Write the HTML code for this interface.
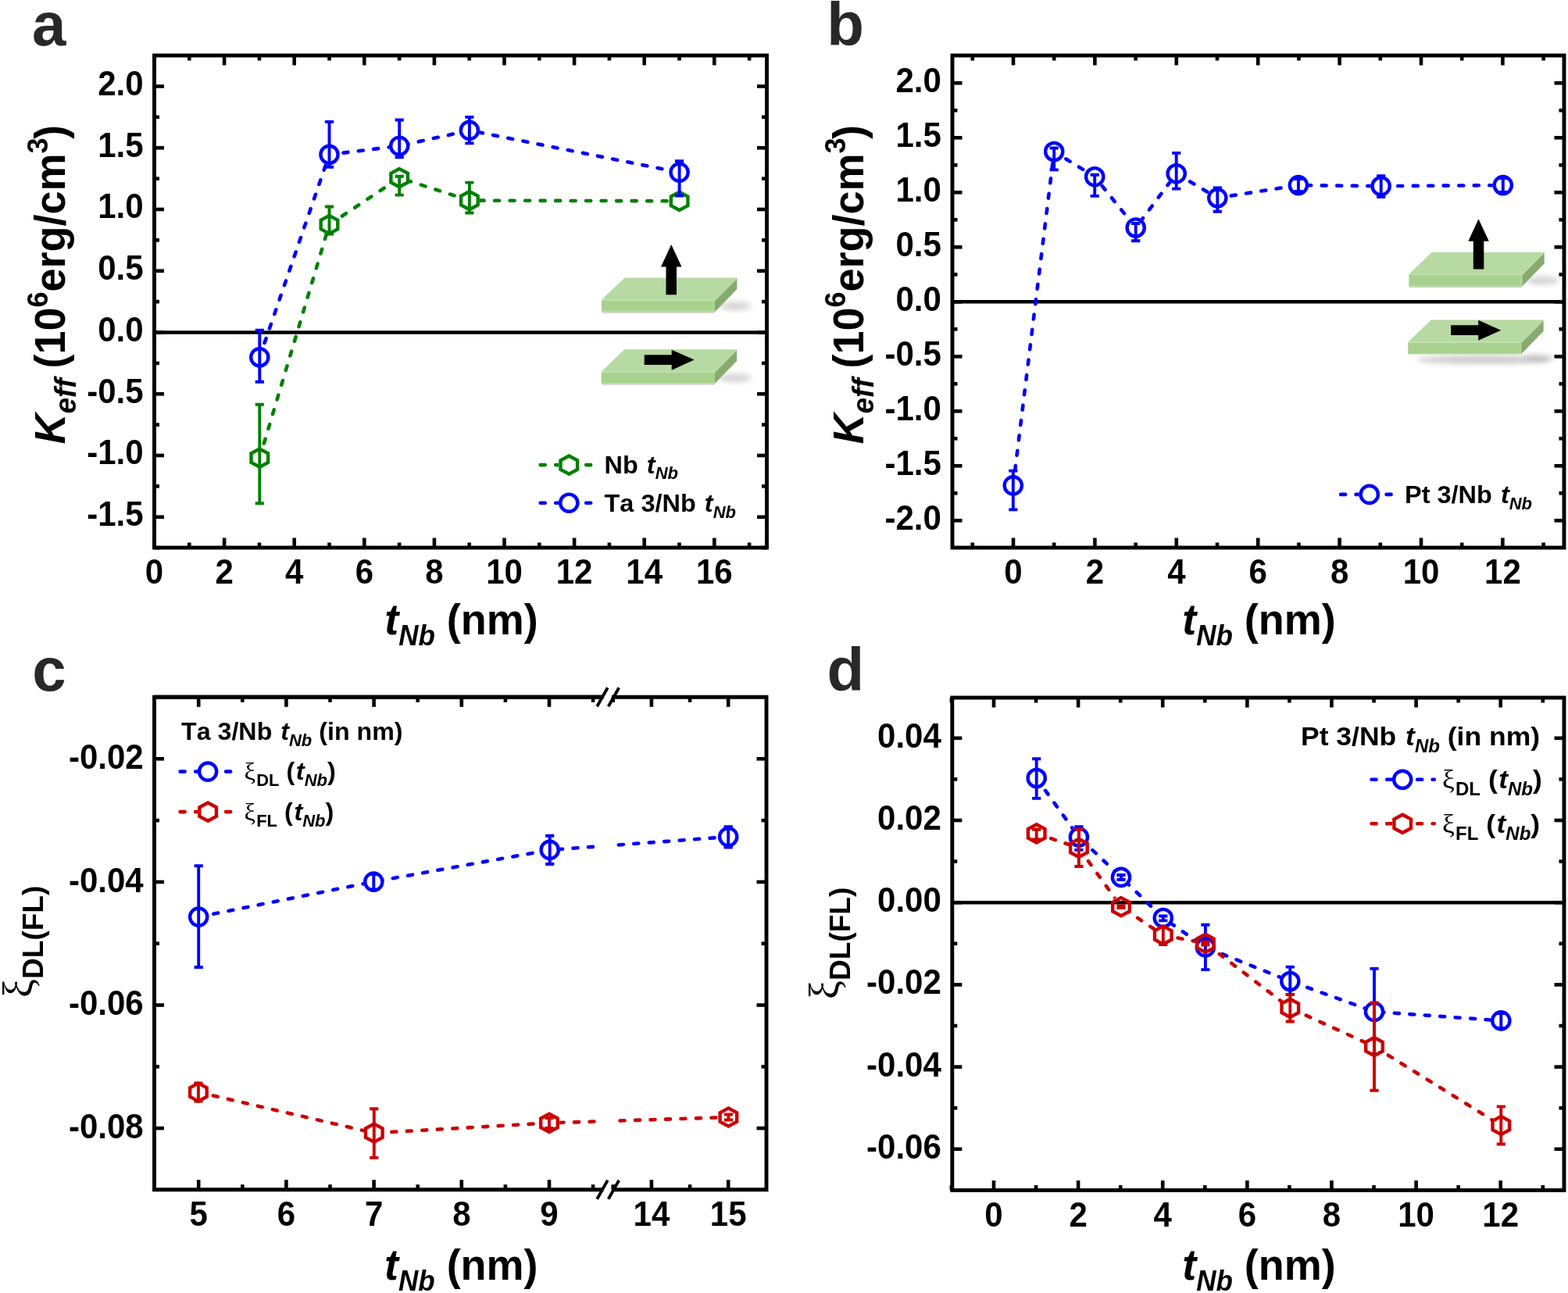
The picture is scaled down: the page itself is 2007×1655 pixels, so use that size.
<!DOCTYPE html>
<html><head><meta charset="utf-8"><title>Figure</title><style>html,body{margin:0;padding:0;background:#fff;}svg{display:block;}text{font-kerning:none;}</style></head><body>
<svg width="2007" height="1655" viewBox="0 0 2007 1655" style="font-kerning:none"><defs><filter id="shblur" x="-30%" y="-80%" width="160%" height="260%"><feGaussianBlur stdDeviation="3.5"/></filter><mask id="m1" maskUnits="userSpaceOnUse" x="0" y="0" width="2007" height="1655"><rect x="0" y="0" width="2007" height="1655" fill="#fff"/><circle cx="332.3" cy="586.2" r="13.2" fill="#000"/><circle cx="421.5" cy="287.5" r="13.2" fill="#000"/><circle cx="511.2" cy="227.7" r="13.2" fill="#000"/><circle cx="600.9" cy="256.6" r="13.2" fill="#000"/><circle cx="869.6" cy="257.3" r="13.2" fill="#000"/></mask><mask id="m2" maskUnits="userSpaceOnUse" x="0" y="0" width="2007" height="1655"><rect x="0" y="0" width="2007" height="1655" fill="#fff"/><circle cx="332.3" cy="457.3" r="13.2" fill="#000"/><circle cx="421.5" cy="197.8" r="13.2" fill="#000"/><circle cx="511.2" cy="186.8" r="13.2" fill="#000"/><circle cx="600.9" cy="166.9" r="13.2" fill="#000"/><circle cx="869.6" cy="220.6" r="13.2" fill="#000"/></mask><mask id="m3" maskUnits="userSpaceOnUse" x="0" y="0" width="2007" height="1655"><rect x="0" y="0" width="2007" height="1655" fill="#fff"/><circle cx="728.3" cy="595.1" r="13.2" fill="#000"/></mask><mask id="m4" maskUnits="userSpaceOnUse" x="0" y="0" width="2007" height="1655"><rect x="0" y="0" width="2007" height="1655" fill="#fff"/><circle cx="728.3" cy="643.7" r="13.2" fill="#000"/></mask><mask id="m5" maskUnits="userSpaceOnUse" x="0" y="0" width="2007" height="1655"><rect x="0" y="0" width="2007" height="1655" fill="#fff"/><circle cx="1296.8" cy="621.4" r="13.2" fill="#000"/><circle cx="1349.2" cy="194" r="13.2" fill="#000"/><circle cx="1401.2" cy="226.2" r="13.2" fill="#000"/><circle cx="1453.7" cy="291.5" r="13.2" fill="#000"/><circle cx="1505.7" cy="222.2" r="13.2" fill="#000"/><circle cx="1558.3" cy="253.3" r="13.2" fill="#000"/><circle cx="1661.9" cy="237.1" r="13.2" fill="#000"/><circle cx="1767.7" cy="238.2" r="13.2" fill="#000"/><circle cx="1923.8" cy="237.1" r="13.2" fill="#000"/></mask><mask id="m6" maskUnits="userSpaceOnUse" x="0" y="0" width="2007" height="1655"><rect x="0" y="0" width="2007" height="1655" fill="#fff"/><circle cx="1752.8" cy="632.9" r="13.2" fill="#000"/></mask><mask id="m7" maskUnits="userSpaceOnUse" x="0" y="0" width="2007" height="1655"><rect x="0" y="0" width="2007" height="1655" fill="#fff"/><circle cx="254.2" cy="1173.6" r="13.2" fill="#000"/><circle cx="478.3" cy="1128.6" r="13.2" fill="#000"/><circle cx="703.7" cy="1087.9" r="13.2" fill="#000"/><circle cx="932.2" cy="1071.1" r="13.2" fill="#000"/><rect x="770" y="892.3" width="18.5" height="630.4" fill="#000"/></mask><mask id="m8" maskUnits="userSpaceOnUse" x="0" y="0" width="2007" height="1655"><rect x="0" y="0" width="2007" height="1655" fill="#fff"/><circle cx="253.9" cy="1398" r="13.2" fill="#000"/><circle cx="478.8" cy="1450.2" r="13.2" fill="#000"/><circle cx="703" cy="1437.4" r="13.2" fill="#000"/><circle cx="932.4" cy="1430" r="13.2" fill="#000"/><rect x="770" y="892.3" width="18.5" height="630.4" fill="#000"/></mask><mask id="m9" maskUnits="userSpaceOnUse" x="0" y="0" width="2007" height="1655"><rect x="0" y="0" width="2007" height="1655" fill="#fff"/><circle cx="266.1" cy="987.6" r="13.2" fill="#000"/></mask><mask id="m10" maskUnits="userSpaceOnUse" x="0" y="0" width="2007" height="1655"><rect x="0" y="0" width="2007" height="1655" fill="#fff"/><circle cx="266.1" cy="1039.1" r="13.2" fill="#000"/></mask><mask id="m11" maskUnits="userSpaceOnUse" x="0" y="0" width="2007" height="1655"><rect x="0" y="0" width="2007" height="1655" fill="#fff"/><circle cx="1326.7" cy="996" r="13.2" fill="#000"/><circle cx="1380.9" cy="1071.5" r="13.2" fill="#000"/><circle cx="1435" cy="1122.9" r="13.2" fill="#000"/><circle cx="1488.8" cy="1175" r="13.2" fill="#000"/><circle cx="1542.9" cy="1212.4" r="13.2" fill="#000"/><circle cx="1651.3" cy="1256" r="13.2" fill="#000"/><circle cx="1759" cy="1294.9" r="13.2" fill="#000"/><circle cx="1921.3" cy="1306.4" r="13.2" fill="#000"/></mask><mask id="m12" maskUnits="userSpaceOnUse" x="0" y="0" width="2007" height="1655"><rect x="0" y="0" width="2007" height="1655" fill="#fff"/><circle cx="1326.7" cy="1066.8" r="13.2" fill="#000"/><circle cx="1380.9" cy="1085.4" r="13.2" fill="#000"/><circle cx="1435" cy="1160.7" r="13.2" fill="#000"/><circle cx="1488.8" cy="1197" r="13.2" fill="#000"/><circle cx="1542.9" cy="1207.4" r="13.2" fill="#000"/><circle cx="1651.3" cy="1290.3" r="13.2" fill="#000"/><circle cx="1759" cy="1339.6" r="13.2" fill="#000"/><circle cx="1921.3" cy="1440.5" r="13.2" fill="#000"/></mask><mask id="m13" maskUnits="userSpaceOnUse" x="0" y="0" width="2007" height="1655"><rect x="0" y="0" width="2007" height="1655" fill="#fff"/><circle cx="1795.2" cy="997.8" r="13.2" fill="#000"/></mask><mask id="m14" maskUnits="userSpaceOnUse" x="0" y="0" width="2007" height="1655"><rect x="0" y="0" width="2007" height="1655" fill="#fff"/><circle cx="1795.2" cy="1054.3" r="13.2" fill="#000"/></mask></defs><rect width="2007" height="1655" fill="#fff"/><line x1="197.5" y1="425.5" x2="981.5" y2="425.5" stroke="#000" stroke-width="4.5"/>
<line x1="197.5" y1="701" x2="197.5" y2="688.5" stroke="#000" stroke-width="4.6"/>
<line x1="197.5" y1="71" x2="197.5" y2="83.5" stroke="#000" stroke-width="4.6"/>
<line x1="287.1" y1="701" x2="287.1" y2="688.5" stroke="#000" stroke-width="4.6"/>
<line x1="287.1" y1="71" x2="287.1" y2="83.5" stroke="#000" stroke-width="4.6"/>
<line x1="376.7" y1="701" x2="376.7" y2="688.5" stroke="#000" stroke-width="4.6"/>
<line x1="376.7" y1="71" x2="376.7" y2="83.5" stroke="#000" stroke-width="4.6"/>
<line x1="466.3" y1="701" x2="466.3" y2="688.5" stroke="#000" stroke-width="4.6"/>
<line x1="466.3" y1="71" x2="466.3" y2="83.5" stroke="#000" stroke-width="4.6"/>
<line x1="555.9" y1="701" x2="555.9" y2="688.5" stroke="#000" stroke-width="4.6"/>
<line x1="555.9" y1="71" x2="555.9" y2="83.5" stroke="#000" stroke-width="4.6"/>
<line x1="645.5" y1="701" x2="645.5" y2="688.5" stroke="#000" stroke-width="4.6"/>
<line x1="645.5" y1="71" x2="645.5" y2="83.5" stroke="#000" stroke-width="4.6"/>
<line x1="735.1" y1="701" x2="735.1" y2="688.5" stroke="#000" stroke-width="4.6"/>
<line x1="735.1" y1="71" x2="735.1" y2="83.5" stroke="#000" stroke-width="4.6"/>
<line x1="824.7" y1="701" x2="824.7" y2="688.5" stroke="#000" stroke-width="4.6"/>
<line x1="824.7" y1="71" x2="824.7" y2="83.5" stroke="#000" stroke-width="4.6"/>
<line x1="914.3" y1="701" x2="914.3" y2="688.5" stroke="#000" stroke-width="4.6"/>
<line x1="914.3" y1="71" x2="914.3" y2="83.5" stroke="#000" stroke-width="4.6"/>
<line x1="242.3" y1="701" x2="242.3" y2="694.5" stroke="#000" stroke-width="4.6"/>
<line x1="242.3" y1="71" x2="242.3" y2="77.5" stroke="#000" stroke-width="4.6"/>
<line x1="331.9" y1="701" x2="331.9" y2="694.5" stroke="#000" stroke-width="4.6"/>
<line x1="331.9" y1="71" x2="331.9" y2="77.5" stroke="#000" stroke-width="4.6"/>
<line x1="421.5" y1="701" x2="421.5" y2="694.5" stroke="#000" stroke-width="4.6"/>
<line x1="421.5" y1="71" x2="421.5" y2="77.5" stroke="#000" stroke-width="4.6"/>
<line x1="511.1" y1="701" x2="511.1" y2="694.5" stroke="#000" stroke-width="4.6"/>
<line x1="511.1" y1="71" x2="511.1" y2="77.5" stroke="#000" stroke-width="4.6"/>
<line x1="600.7" y1="701" x2="600.7" y2="694.5" stroke="#000" stroke-width="4.6"/>
<line x1="600.7" y1="71" x2="600.7" y2="77.5" stroke="#000" stroke-width="4.6"/>
<line x1="690.3" y1="701" x2="690.3" y2="694.5" stroke="#000" stroke-width="4.6"/>
<line x1="690.3" y1="71" x2="690.3" y2="77.5" stroke="#000" stroke-width="4.6"/>
<line x1="779.9" y1="701" x2="779.9" y2="694.5" stroke="#000" stroke-width="4.6"/>
<line x1="779.9" y1="71" x2="779.9" y2="77.5" stroke="#000" stroke-width="4.6"/>
<line x1="869.5" y1="701" x2="869.5" y2="694.5" stroke="#000" stroke-width="4.6"/>
<line x1="869.5" y1="71" x2="869.5" y2="77.5" stroke="#000" stroke-width="4.6"/>
<line x1="959.1" y1="701" x2="959.1" y2="694.5" stroke="#000" stroke-width="4.6"/>
<line x1="959.1" y1="71" x2="959.1" y2="77.5" stroke="#000" stroke-width="4.6"/>
<line x1="197.5" y1="661.75" x2="210" y2="661.75" stroke="#000" stroke-width="4.6"/>
<line x1="981.5" y1="661.75" x2="969" y2="661.75" stroke="#000" stroke-width="4.6"/>
<line x1="197.5" y1="583" x2="210" y2="583" stroke="#000" stroke-width="4.6"/>
<line x1="981.5" y1="583" x2="969" y2="583" stroke="#000" stroke-width="4.6"/>
<line x1="197.5" y1="504.25" x2="210" y2="504.25" stroke="#000" stroke-width="4.6"/>
<line x1="981.5" y1="504.25" x2="969" y2="504.25" stroke="#000" stroke-width="4.6"/>
<line x1="197.5" y1="425.5" x2="210" y2="425.5" stroke="#000" stroke-width="4.6"/>
<line x1="981.5" y1="425.5" x2="969" y2="425.5" stroke="#000" stroke-width="4.6"/>
<line x1="197.5" y1="346.75" x2="210" y2="346.75" stroke="#000" stroke-width="4.6"/>
<line x1="981.5" y1="346.75" x2="969" y2="346.75" stroke="#000" stroke-width="4.6"/>
<line x1="197.5" y1="268" x2="210" y2="268" stroke="#000" stroke-width="4.6"/>
<line x1="981.5" y1="268" x2="969" y2="268" stroke="#000" stroke-width="4.6"/>
<line x1="197.5" y1="189.25" x2="210" y2="189.25" stroke="#000" stroke-width="4.6"/>
<line x1="981.5" y1="189.25" x2="969" y2="189.25" stroke="#000" stroke-width="4.6"/>
<line x1="197.5" y1="110.5" x2="210" y2="110.5" stroke="#000" stroke-width="4.6"/>
<line x1="981.5" y1="110.5" x2="969" y2="110.5" stroke="#000" stroke-width="4.6"/>
<line x1="197.5" y1="701.12" x2="204" y2="701.12" stroke="#000" stroke-width="4.6"/>
<line x1="981.5" y1="701.12" x2="975" y2="701.12" stroke="#000" stroke-width="4.6"/>
<line x1="197.5" y1="622.38" x2="204" y2="622.38" stroke="#000" stroke-width="4.6"/>
<line x1="981.5" y1="622.38" x2="975" y2="622.38" stroke="#000" stroke-width="4.6"/>
<line x1="197.5" y1="543.62" x2="204" y2="543.62" stroke="#000" stroke-width="4.6"/>
<line x1="981.5" y1="543.62" x2="975" y2="543.62" stroke="#000" stroke-width="4.6"/>
<line x1="197.5" y1="464.88" x2="204" y2="464.88" stroke="#000" stroke-width="4.6"/>
<line x1="981.5" y1="464.88" x2="975" y2="464.88" stroke="#000" stroke-width="4.6"/>
<line x1="197.5" y1="386.12" x2="204" y2="386.12" stroke="#000" stroke-width="4.6"/>
<line x1="981.5" y1="386.12" x2="975" y2="386.12" stroke="#000" stroke-width="4.6"/>
<line x1="197.5" y1="307.38" x2="204" y2="307.38" stroke="#000" stroke-width="4.6"/>
<line x1="981.5" y1="307.38" x2="975" y2="307.38" stroke="#000" stroke-width="4.6"/>
<line x1="197.5" y1="228.62" x2="204" y2="228.62" stroke="#000" stroke-width="4.6"/>
<line x1="981.5" y1="228.62" x2="975" y2="228.62" stroke="#000" stroke-width="4.6"/>
<line x1="197.5" y1="149.88" x2="204" y2="149.88" stroke="#000" stroke-width="4.6"/>
<line x1="981.5" y1="149.88" x2="975" y2="149.88" stroke="#000" stroke-width="4.6"/>
<rect x="197.5" y="71" width="784" height="630" fill="none" stroke="#000" stroke-width="4.9" stroke-linejoin="miter"/>
<text transform="translate(197.5,747) scale(1,1.05)" font-family="'Liberation Sans', Arial, Helvetica, sans-serif" font-size="42" font-weight="bold" font-style="normal" fill="#000" text-anchor="middle">0</text>
<text transform="translate(287.1,747) scale(1,1.05)" font-family="'Liberation Sans', Arial, Helvetica, sans-serif" font-size="42" font-weight="bold" font-style="normal" fill="#000" text-anchor="middle">2</text>
<text transform="translate(376.7,747) scale(1,1.05)" font-family="'Liberation Sans', Arial, Helvetica, sans-serif" font-size="42" font-weight="bold" font-style="normal" fill="#000" text-anchor="middle">4</text>
<text transform="translate(466.3,747) scale(1,1.05)" font-family="'Liberation Sans', Arial, Helvetica, sans-serif" font-size="42" font-weight="bold" font-style="normal" fill="#000" text-anchor="middle">6</text>
<text transform="translate(555.9,747) scale(1,1.05)" font-family="'Liberation Sans', Arial, Helvetica, sans-serif" font-size="42" font-weight="bold" font-style="normal" fill="#000" text-anchor="middle">8</text>
<text transform="translate(645.5,747) scale(1,1.05)" font-family="'Liberation Sans', Arial, Helvetica, sans-serif" font-size="42" font-weight="bold" font-style="normal" fill="#000" text-anchor="middle">10</text>
<text transform="translate(735.1,747) scale(1,1.05)" font-family="'Liberation Sans', Arial, Helvetica, sans-serif" font-size="42" font-weight="bold" font-style="normal" fill="#000" text-anchor="middle">12</text>
<text transform="translate(824.7,747) scale(1,1.05)" font-family="'Liberation Sans', Arial, Helvetica, sans-serif" font-size="42" font-weight="bold" font-style="normal" fill="#000" text-anchor="middle">14</text>
<text transform="translate(914.3,747) scale(1,1.05)" font-family="'Liberation Sans', Arial, Helvetica, sans-serif" font-size="42" font-weight="bold" font-style="normal" fill="#000" text-anchor="middle">16</text>
<text transform="translate(183.6,673.15) scale(1,1.05)" font-family="'Liberation Sans', Arial, Helvetica, sans-serif" font-size="42" font-weight="bold" font-style="normal" fill="#000" text-anchor="end">-1.5</text>
<text transform="translate(183.6,594.4) scale(1,1.05)" font-family="'Liberation Sans', Arial, Helvetica, sans-serif" font-size="42" font-weight="bold" font-style="normal" fill="#000" text-anchor="end">-1.0</text>
<text transform="translate(183.6,515.65) scale(1,1.05)" font-family="'Liberation Sans', Arial, Helvetica, sans-serif" font-size="42" font-weight="bold" font-style="normal" fill="#000" text-anchor="end">-0.5</text>
<text transform="translate(183.6,436.9) scale(1,1.05)" font-family="'Liberation Sans', Arial, Helvetica, sans-serif" font-size="42" font-weight="bold" font-style="normal" fill="#000" text-anchor="end">0.0</text>
<text transform="translate(183.6,358.15) scale(1,1.05)" font-family="'Liberation Sans', Arial, Helvetica, sans-serif" font-size="42" font-weight="bold" font-style="normal" fill="#000" text-anchor="end">0.5</text>
<text transform="translate(183.6,279.4) scale(1,1.05)" font-family="'Liberation Sans', Arial, Helvetica, sans-serif" font-size="42" font-weight="bold" font-style="normal" fill="#000" text-anchor="end">1.0</text>
<text transform="translate(183.6,200.65) scale(1,1.05)" font-family="'Liberation Sans', Arial, Helvetica, sans-serif" font-size="42" font-weight="bold" font-style="normal" fill="#000" text-anchor="end">1.5</text>
<text transform="translate(183.6,121.9) scale(1,1.05)" font-family="'Liberation Sans', Arial, Helvetica, sans-serif" font-size="42" font-weight="bold" font-style="normal" fill="#000" text-anchor="end">2.0</text>
<g transform="translate(770,383.8)">
<ellipse cx="171" cy="8" rx="21" ry="5.5" fill="#000" opacity="0.17" filter="url(#shblur)"/>
<rect x="1" y="15.6" width="144" height="1.4" fill="#000" opacity="0.2"/>
<polygon points="29.6,-28.4 173.4,-28.4 145,0 0,0" fill="#b7d9a2"/>
<polygon points="0,0 145,0 145,15.5 0,15.5" fill="#a9d18e"/>
<polygon points="145,0 173.4,-28.4 173.4,-13.8 145,15.5" fill="#87aa70"/>
<polyline points="0,0.6 145,0.6 173,-27.8" fill="none" stroke="#c2e2ad" stroke-width="1.2"/>
<polyline points="0,14.8 144.4,14.8 144.4,0.5" fill="none" stroke="#b4dc98" stroke-width="1.1"/>
<polygon points="82.5,-6.6 96,-6.6 96,-42.4 102.5,-42.4 89.2,-70.8 76,-42.4 82.5,-42.4" fill="#000"/>
</g>
<g transform="translate(769.7,475.7)">
<ellipse cx="171" cy="8" rx="21" ry="5.5" fill="#000" opacity="0.17" filter="url(#shblur)"/>
<rect x="1" y="15.6" width="144" height="1.4" fill="#000" opacity="0.2"/>
<polygon points="29.6,-28.4 173.4,-28.4 145,0 0,0" fill="#b7d9a2"/>
<polygon points="0,0 145,0 145,15.5 0,15.5" fill="#a9d18e"/>
<polygon points="145,0 173.4,-28.4 173.4,-13.8 145,15.5" fill="#87aa70"/>
<polyline points="0,0.6 145,0.6 173,-27.8" fill="none" stroke="#c2e2ad" stroke-width="1.2"/>
<polyline points="0,14.8 144.4,14.8 144.4,0.5" fill="none" stroke="#b4dc98" stroke-width="1.1"/>
<polygon points="55,-21.5 90,-21.5 90,-28 119,-15.1 90,-2 90,-8.7 55,-8.7" fill="#000"/>
</g>
<path d="M332.3,586.2 L421.5,287.5 L511.2,227.7 L600.9,256.6 L869.6,257.3" fill="none" stroke="#008000" stroke-width="4.6" stroke-dasharray="6.0 13.5" stroke-linecap="round" mask="url(#m1)"/>
<path d="M332.3,517.8 V644.3 M326.7,517.8 H337.9 M326.7,644.3 H337.9" fill="none" stroke="#008000" stroke-width="3.9"/>
<path d="M421.5,264.5 V299.5 M415.9,264.5 H427.1 M415.9,299.5 H427.1" fill="none" stroke="#008000" stroke-width="3.9"/>
<path d="M511.2,225.7 V249.6 M505.6,225.7 H516.8 M505.6,249.6 H516.8" fill="none" stroke="#008000" stroke-width="3.9"/>
<path d="M600.9,233.6 V272.5 M595.3,233.6 H606.5 M595.3,272.5 H606.5" fill="none" stroke="#008000" stroke-width="3.9"/>
<polygon points="332.3,574.6 343.1,580.4 343.1,592 332.3,597.8 321.5,592 321.5,580.4" fill="none" stroke="#008000" stroke-width="4.4" stroke-linejoin="miter"/>
<polygon points="421.5,275.9 432.3,281.7 432.3,293.3 421.5,299.1 410.7,293.3 410.7,281.7" fill="none" stroke="#008000" stroke-width="4.4" stroke-linejoin="miter"/>
<polygon points="511.2,216.1 522,221.9 522,233.5 511.2,239.3 500.4,233.5 500.4,221.9" fill="none" stroke="#008000" stroke-width="4.4" stroke-linejoin="miter"/>
<polygon points="600.9,245 611.7,250.8 611.7,262.4 600.9,268.2 590.1,262.4 590.1,250.8" fill="none" stroke="#008000" stroke-width="4.4" stroke-linejoin="miter"/>
<polygon points="869.6,245.7 880.4,251.5 880.4,263.1 869.6,268.9 858.8,263.1 858.8,251.5" fill="none" stroke="#008000" stroke-width="4.4" stroke-linejoin="miter"/>
<path d="M332.3,457.3 L421.5,197.8 L511.2,186.8 L600.9,166.9 L869.6,220.6" fill="none" stroke="#0000ff" stroke-width="4.6" stroke-dasharray="6.0 13.5" stroke-linecap="round" mask="url(#m2)"/>
<path d="M332.3,422.8 V488.8 M326.7,422.8 H337.9 M326.7,488.8 H337.9" fill="none" stroke="#0000ff" stroke-width="3.9"/>
<path d="M421.5,155.9 V213.7 M415.9,155.9 H427.1 M415.9,213.7 H427.1" fill="none" stroke="#0000ff" stroke-width="3.9"/>
<path d="M511.2,153.5 V201.3 M505.6,153.5 H516.8 M505.6,201.3 H516.8" fill="none" stroke="#0000ff" stroke-width="3.9"/>
<path d="M600.9,149.9 V183.4 M595.3,149.9 H606.5 M595.3,183.4 H606.5" fill="none" stroke="#0000ff" stroke-width="3.9"/>
<path d="M869.6,206.1 V250.5 M864,206.1 H875.2 M864,250.5 H875.2" fill="none" stroke="#0000ff" stroke-width="3.9"/>
<circle cx="332.3" cy="457.3" r="11.1" fill="none" stroke="#0000ff" stroke-width="4.4"/>
<circle cx="421.5" cy="197.8" r="11.1" fill="none" stroke="#0000ff" stroke-width="4.4"/>
<circle cx="511.2" cy="186.8" r="11.1" fill="none" stroke="#0000ff" stroke-width="4.4"/>
<circle cx="600.9" cy="166.9" r="11.1" fill="none" stroke="#0000ff" stroke-width="4.4"/>
<circle cx="869.6" cy="220.6" r="11.1" fill="none" stroke="#0000ff" stroke-width="4.4"/>
<path d="M691.7,595.1 H760" fill="none" stroke="#008000" stroke-width="4.6" stroke-dasharray="6.0 13.5" stroke-linecap="round" mask="url(#m3)"/>
<polygon points="728.3,583.5 739.1,589.3 739.1,600.9 728.3,606.7 717.5,600.9 717.5,589.3" fill="none" stroke="#008000" stroke-width="4.4" stroke-linejoin="miter"/>
<path d="M691.7,643.7 H760" fill="none" stroke="#0000ff" stroke-width="4.6" stroke-dasharray="6.0 13.5" stroke-linecap="round" mask="url(#m4)"/>
<circle cx="728.3" cy="643.7" r="11.1" fill="none" stroke="#0000ff" stroke-width="4.4"/>
<text transform="translate(773.5,605.6) scale(1,0.98)" font-family="'Liberation Sans', Arial, Helvetica, sans-serif" font-size="32.5" font-weight="bold" font-style="normal" fill="#000" text-anchor="start"><tspan>Nb </tspan><tspan dx="2" font-style="italic">t</tspan><tspan dy="8" font-size="22" font-style="italic">Nb</tspan></text>
<text transform="translate(773.5,654.9) scale(1,0.98)" font-family="'Liberation Sans', Arial, Helvetica, sans-serif" font-size="32.5" font-weight="bold" font-style="normal" fill="#000" text-anchor="start"><tspan>Ta 3/Nb </tspan><tspan dx="2" font-style="italic">t</tspan><tspan dy="8" font-size="22" font-style="italic">Nb</tspan></text>
<text transform="translate(590.5,811.6) scale(1,1.04)" font-family="'Liberation Sans', Arial, Helvetica, sans-serif" font-size="54" font-weight="bold" font-style="normal" fill="#000" text-anchor="middle"><tspan font-style="italic">t</tspan><tspan dy="14" font-size="35" font-style="italic">Nb</tspan><tspan dy="-14"> (nm)</tspan></text>
<text transform="translate(83.3,568.5) rotate(-90) scale(1,1.035)" font-family="'Liberation Sans', Arial, Helvetica, sans-serif" font-size="54" font-weight="bold" font-style="normal" fill="#000" text-anchor="start"><tspan font-style="italic">K</tspan><tspan dy="13" font-size="37" font-style="italic">eff</tspan><tspan dy="-13" dx="-2.3"> (10</tspan><tspan dy="-22" font-size="36">6</tspan><tspan dy="22">erg/cm</tspan><tspan dy="-22" font-size="36">3</tspan><tspan dy="22" dx="-1.5">)</tspan></text>
<text transform="translate(41,57.8)" font-family="'Liberation Sans', Arial, Helvetica, sans-serif" font-size="78" font-weight="bold" font-style="normal" fill="#282828" text-anchor="start">a</text>
<line x1="1219" y1="386.3" x2="2002" y2="386.3" stroke="#000" stroke-width="4.5"/>
<line x1="1297" y1="701" x2="1297" y2="688.5" stroke="#000" stroke-width="4.6"/>
<line x1="1297" y1="71" x2="1297" y2="83.5" stroke="#000" stroke-width="4.6"/>
<line x1="1401.4" y1="701" x2="1401.4" y2="688.5" stroke="#000" stroke-width="4.6"/>
<line x1="1401.4" y1="71" x2="1401.4" y2="83.5" stroke="#000" stroke-width="4.6"/>
<line x1="1505.8" y1="701" x2="1505.8" y2="688.5" stroke="#000" stroke-width="4.6"/>
<line x1="1505.8" y1="71" x2="1505.8" y2="83.5" stroke="#000" stroke-width="4.6"/>
<line x1="1610.2" y1="701" x2="1610.2" y2="688.5" stroke="#000" stroke-width="4.6"/>
<line x1="1610.2" y1="71" x2="1610.2" y2="83.5" stroke="#000" stroke-width="4.6"/>
<line x1="1714.6" y1="701" x2="1714.6" y2="688.5" stroke="#000" stroke-width="4.6"/>
<line x1="1714.6" y1="71" x2="1714.6" y2="83.5" stroke="#000" stroke-width="4.6"/>
<line x1="1819" y1="701" x2="1819" y2="688.5" stroke="#000" stroke-width="4.6"/>
<line x1="1819" y1="71" x2="1819" y2="83.5" stroke="#000" stroke-width="4.6"/>
<line x1="1923.4" y1="701" x2="1923.4" y2="688.5" stroke="#000" stroke-width="4.6"/>
<line x1="1923.4" y1="71" x2="1923.4" y2="83.5" stroke="#000" stroke-width="4.6"/>
<line x1="1244.8" y1="701" x2="1244.8" y2="694.5" stroke="#000" stroke-width="4.6"/>
<line x1="1244.8" y1="71" x2="1244.8" y2="77.5" stroke="#000" stroke-width="4.6"/>
<line x1="1349.2" y1="701" x2="1349.2" y2="694.5" stroke="#000" stroke-width="4.6"/>
<line x1="1349.2" y1="71" x2="1349.2" y2="77.5" stroke="#000" stroke-width="4.6"/>
<line x1="1453.6" y1="701" x2="1453.6" y2="694.5" stroke="#000" stroke-width="4.6"/>
<line x1="1453.6" y1="71" x2="1453.6" y2="77.5" stroke="#000" stroke-width="4.6"/>
<line x1="1558" y1="701" x2="1558" y2="694.5" stroke="#000" stroke-width="4.6"/>
<line x1="1558" y1="71" x2="1558" y2="77.5" stroke="#000" stroke-width="4.6"/>
<line x1="1662.4" y1="701" x2="1662.4" y2="694.5" stroke="#000" stroke-width="4.6"/>
<line x1="1662.4" y1="71" x2="1662.4" y2="77.5" stroke="#000" stroke-width="4.6"/>
<line x1="1766.8" y1="701" x2="1766.8" y2="694.5" stroke="#000" stroke-width="4.6"/>
<line x1="1766.8" y1="71" x2="1766.8" y2="77.5" stroke="#000" stroke-width="4.6"/>
<line x1="1871.2" y1="701" x2="1871.2" y2="694.5" stroke="#000" stroke-width="4.6"/>
<line x1="1871.2" y1="71" x2="1871.2" y2="77.5" stroke="#000" stroke-width="4.6"/>
<line x1="1975.6" y1="701" x2="1975.6" y2="694.5" stroke="#000" stroke-width="4.6"/>
<line x1="1975.6" y1="71" x2="1975.6" y2="77.5" stroke="#000" stroke-width="4.6"/>
<line x1="1219" y1="666.3" x2="1231.5" y2="666.3" stroke="#000" stroke-width="4.6"/>
<line x1="2002" y1="666.3" x2="1989.5" y2="666.3" stroke="#000" stroke-width="4.6"/>
<line x1="1219" y1="596.3" x2="1231.5" y2="596.3" stroke="#000" stroke-width="4.6"/>
<line x1="2002" y1="596.3" x2="1989.5" y2="596.3" stroke="#000" stroke-width="4.6"/>
<line x1="1219" y1="526.3" x2="1231.5" y2="526.3" stroke="#000" stroke-width="4.6"/>
<line x1="2002" y1="526.3" x2="1989.5" y2="526.3" stroke="#000" stroke-width="4.6"/>
<line x1="1219" y1="456.3" x2="1231.5" y2="456.3" stroke="#000" stroke-width="4.6"/>
<line x1="2002" y1="456.3" x2="1989.5" y2="456.3" stroke="#000" stroke-width="4.6"/>
<line x1="1219" y1="386.3" x2="1231.5" y2="386.3" stroke="#000" stroke-width="4.6"/>
<line x1="2002" y1="386.3" x2="1989.5" y2="386.3" stroke="#000" stroke-width="4.6"/>
<line x1="1219" y1="316.3" x2="1231.5" y2="316.3" stroke="#000" stroke-width="4.6"/>
<line x1="2002" y1="316.3" x2="1989.5" y2="316.3" stroke="#000" stroke-width="4.6"/>
<line x1="1219" y1="246.3" x2="1231.5" y2="246.3" stroke="#000" stroke-width="4.6"/>
<line x1="2002" y1="246.3" x2="1989.5" y2="246.3" stroke="#000" stroke-width="4.6"/>
<line x1="1219" y1="176.3" x2="1231.5" y2="176.3" stroke="#000" stroke-width="4.6"/>
<line x1="2002" y1="176.3" x2="1989.5" y2="176.3" stroke="#000" stroke-width="4.6"/>
<line x1="1219" y1="106.3" x2="1231.5" y2="106.3" stroke="#000" stroke-width="4.6"/>
<line x1="2002" y1="106.3" x2="1989.5" y2="106.3" stroke="#000" stroke-width="4.6"/>
<line x1="1219" y1="631.3" x2="1225.5" y2="631.3" stroke="#000" stroke-width="4.6"/>
<line x1="2002" y1="631.3" x2="1995.5" y2="631.3" stroke="#000" stroke-width="4.6"/>
<line x1="1219" y1="561.3" x2="1225.5" y2="561.3" stroke="#000" stroke-width="4.6"/>
<line x1="2002" y1="561.3" x2="1995.5" y2="561.3" stroke="#000" stroke-width="4.6"/>
<line x1="1219" y1="491.3" x2="1225.5" y2="491.3" stroke="#000" stroke-width="4.6"/>
<line x1="2002" y1="491.3" x2="1995.5" y2="491.3" stroke="#000" stroke-width="4.6"/>
<line x1="1219" y1="421.3" x2="1225.5" y2="421.3" stroke="#000" stroke-width="4.6"/>
<line x1="2002" y1="421.3" x2="1995.5" y2="421.3" stroke="#000" stroke-width="4.6"/>
<line x1="1219" y1="351.3" x2="1225.5" y2="351.3" stroke="#000" stroke-width="4.6"/>
<line x1="2002" y1="351.3" x2="1995.5" y2="351.3" stroke="#000" stroke-width="4.6"/>
<line x1="1219" y1="281.3" x2="1225.5" y2="281.3" stroke="#000" stroke-width="4.6"/>
<line x1="2002" y1="281.3" x2="1995.5" y2="281.3" stroke="#000" stroke-width="4.6"/>
<line x1="1219" y1="211.3" x2="1225.5" y2="211.3" stroke="#000" stroke-width="4.6"/>
<line x1="2002" y1="211.3" x2="1995.5" y2="211.3" stroke="#000" stroke-width="4.6"/>
<line x1="1219" y1="141.3" x2="1225.5" y2="141.3" stroke="#000" stroke-width="4.6"/>
<line x1="2002" y1="141.3" x2="1995.5" y2="141.3" stroke="#000" stroke-width="4.6"/>
<rect x="1219" y="71" width="783" height="630" fill="none" stroke="#000" stroke-width="4.9" stroke-linejoin="miter"/>
<text transform="translate(1297,747) scale(1,1.05)" font-family="'Liberation Sans', Arial, Helvetica, sans-serif" font-size="42" font-weight="bold" font-style="normal" fill="#000" text-anchor="middle">0</text>
<text transform="translate(1401.4,747) scale(1,1.05)" font-family="'Liberation Sans', Arial, Helvetica, sans-serif" font-size="42" font-weight="bold" font-style="normal" fill="#000" text-anchor="middle">2</text>
<text transform="translate(1505.8,747) scale(1,1.05)" font-family="'Liberation Sans', Arial, Helvetica, sans-serif" font-size="42" font-weight="bold" font-style="normal" fill="#000" text-anchor="middle">4</text>
<text transform="translate(1610.2,747) scale(1,1.05)" font-family="'Liberation Sans', Arial, Helvetica, sans-serif" font-size="42" font-weight="bold" font-style="normal" fill="#000" text-anchor="middle">6</text>
<text transform="translate(1714.6,747) scale(1,1.05)" font-family="'Liberation Sans', Arial, Helvetica, sans-serif" font-size="42" font-weight="bold" font-style="normal" fill="#000" text-anchor="middle">8</text>
<text transform="translate(1819,747) scale(1,1.05)" font-family="'Liberation Sans', Arial, Helvetica, sans-serif" font-size="42" font-weight="bold" font-style="normal" fill="#000" text-anchor="middle">10</text>
<text transform="translate(1923.4,747) scale(1,1.05)" font-family="'Liberation Sans', Arial, Helvetica, sans-serif" font-size="42" font-weight="bold" font-style="normal" fill="#000" text-anchor="middle">12</text>
<text transform="translate(1204.8,677.5) scale(1,1.05)" font-family="'Liberation Sans', Arial, Helvetica, sans-serif" font-size="42" font-weight="bold" font-style="normal" fill="#000" text-anchor="end">-2.0</text>
<text transform="translate(1204.8,607.5) scale(1,1.05)" font-family="'Liberation Sans', Arial, Helvetica, sans-serif" font-size="42" font-weight="bold" font-style="normal" fill="#000" text-anchor="end">-1.5</text>
<text transform="translate(1204.8,537.5) scale(1,1.05)" font-family="'Liberation Sans', Arial, Helvetica, sans-serif" font-size="42" font-weight="bold" font-style="normal" fill="#000" text-anchor="end">-1.0</text>
<text transform="translate(1204.8,467.5) scale(1,1.05)" font-family="'Liberation Sans', Arial, Helvetica, sans-serif" font-size="42" font-weight="bold" font-style="normal" fill="#000" text-anchor="end">-0.5</text>
<text transform="translate(1204.8,397.5) scale(1,1.05)" font-family="'Liberation Sans', Arial, Helvetica, sans-serif" font-size="42" font-weight="bold" font-style="normal" fill="#000" text-anchor="end">0.0</text>
<text transform="translate(1204.8,327.5) scale(1,1.05)" font-family="'Liberation Sans', Arial, Helvetica, sans-serif" font-size="42" font-weight="bold" font-style="normal" fill="#000" text-anchor="end">0.5</text>
<text transform="translate(1204.8,257.5) scale(1,1.05)" font-family="'Liberation Sans', Arial, Helvetica, sans-serif" font-size="42" font-weight="bold" font-style="normal" fill="#000" text-anchor="end">1.0</text>
<text transform="translate(1204.8,187.5) scale(1,1.05)" font-family="'Liberation Sans', Arial, Helvetica, sans-serif" font-size="42" font-weight="bold" font-style="normal" fill="#000" text-anchor="end">1.5</text>
<text transform="translate(1204.8,117.5) scale(1,1.05)" font-family="'Liberation Sans', Arial, Helvetica, sans-serif" font-size="42" font-weight="bold" font-style="normal" fill="#000" text-anchor="end">2.0</text>
<g transform="translate(1803.3,351.1)">
<ellipse cx="171" cy="8" rx="21" ry="5.5" fill="#000" opacity="0.17" filter="url(#shblur)"/>
<rect x="1" y="15.6" width="144" height="1.4" fill="#000" opacity="0.2"/>
<polygon points="29.6,-28.4 173.4,-28.4 145,0 0,0" fill="#b7d9a2"/>
<polygon points="0,0 145,0 145,15.5 0,15.5" fill="#a9d18e"/>
<polygon points="145,0 173.4,-28.4 173.4,-13.8 145,15.5" fill="#87aa70"/>
<polyline points="0,0.6 145,0.6 173,-27.8" fill="none" stroke="#c2e2ad" stroke-width="1.2"/>
<polyline points="0,14.8 144.4,14.8 144.4,0.5" fill="none" stroke="#b4dc98" stroke-width="1.1"/>
<polygon points="82.5,-6.6 96,-6.6 96,-42.4 102.5,-42.4 89.2,-70.8 76,-42.4 82.5,-42.4" fill="#000"/>
</g>
<g transform="translate(1802.2,437.8)">
<ellipse cx="98" cy="22.5" rx="88" ry="5.5" fill="#000" opacity="0.2" filter="url(#shblur)"/>
<ellipse cx="168" cy="20" rx="18" ry="5" fill="#000" opacity="0.12" filter="url(#shblur)"/>
<polygon points="29.6,-28.4 173.4,-28.4 145,0 0,0" fill="#b7d9a2"/>
<polygon points="0,0 145,0 145,15.5 0,15.5" fill="#a9d18e"/>
<polygon points="145,0 173.4,-28.4 173.4,-13.8 145,15.5" fill="#87aa70"/>
<polyline points="0,0.6 145,0.6 173,-27.8" fill="none" stroke="#c2e2ad" stroke-width="1.2"/>
<polyline points="0,14.8 144.4,14.8 144.4,0.5" fill="none" stroke="#b4dc98" stroke-width="1.1"/>
<polygon points="55,-21.5 90,-21.5 90,-28 119,-15.1 90,-2 90,-8.7 55,-8.7" fill="#000"/>
</g>
<path d="M1296.8,621.4 L1349.2,194 L1401.2,226.2 L1453.7,291.5 L1505.7,222.2 L1558.3,253.3 L1661.9,237.1 L1767.7,238.2 L1923.8,237.1" fill="none" stroke="#0000ff" stroke-width="4.6" stroke-dasharray="6.0 13.5" stroke-linecap="round" mask="url(#m5)"/>
<path d="M1296.8,602.6 V652.4 M1291.2,602.6 H1302.4 M1291.2,652.4 H1302.4" fill="none" stroke="#0000ff" stroke-width="3.9"/>
<path d="M1349.2,189.5 V217.4 M1343.6,189.5 H1354.8 M1343.6,217.4 H1354.8" fill="none" stroke="#0000ff" stroke-width="3.9"/>
<path d="M1401.2,223.8 V250.9 M1395.6,223.8 H1406.8 M1395.6,250.9 H1406.8" fill="none" stroke="#0000ff" stroke-width="3.9"/>
<path d="M1453.7,286 V308.3 M1448.1,286 H1459.3 M1448.1,308.3 H1459.3" fill="none" stroke="#0000ff" stroke-width="3.9"/>
<path d="M1505.7,195.9 V241.6 M1500.1,195.9 H1511.3 M1500.1,241.6 H1511.3" fill="none" stroke="#0000ff" stroke-width="3.9"/>
<path d="M1558.3,240.5 V270.8 M1552.7,240.5 H1563.9 M1552.7,270.8 H1563.9" fill="none" stroke="#0000ff" stroke-width="3.9"/>
<path d="M1661.9,229 V245 M1656.3,229 H1667.5 M1656.3,245 H1667.5" fill="none" stroke="#0000ff" stroke-width="3.9"/>
<path d="M1767.7,225.1 V252 M1762.1,225.1 H1773.3 M1762.1,252 H1773.3" fill="none" stroke="#0000ff" stroke-width="3.9"/>
<path d="M1923.8,228 V246 M1918.2,228 H1929.4 M1918.2,246 H1929.4" fill="none" stroke="#0000ff" stroke-width="3.9"/>
<circle cx="1296.8" cy="621.4" r="11.1" fill="none" stroke="#0000ff" stroke-width="4.4"/>
<circle cx="1349.2" cy="194" r="11.1" fill="none" stroke="#0000ff" stroke-width="4.4"/>
<circle cx="1401.2" cy="226.2" r="11.1" fill="none" stroke="#0000ff" stroke-width="4.4"/>
<circle cx="1453.7" cy="291.5" r="11.1" fill="none" stroke="#0000ff" stroke-width="4.4"/>
<circle cx="1505.7" cy="222.2" r="11.1" fill="none" stroke="#0000ff" stroke-width="4.4"/>
<circle cx="1558.3" cy="253.3" r="11.1" fill="none" stroke="#0000ff" stroke-width="4.4"/>
<circle cx="1661.9" cy="237.1" r="11.1" fill="none" stroke="#0000ff" stroke-width="4.4"/>
<circle cx="1767.7" cy="238.2" r="11.1" fill="none" stroke="#0000ff" stroke-width="4.4"/>
<circle cx="1923.8" cy="237.1" r="11.1" fill="none" stroke="#0000ff" stroke-width="4.4"/>
<path d="M1716.1,632.9 H1784" fill="none" stroke="#0000ff" stroke-width="4.6" stroke-dasharray="6.0 13.5" stroke-linecap="round" mask="url(#m6)"/>
<circle cx="1752.8" cy="632.9" r="11.1" fill="none" stroke="#0000ff" stroke-width="4.4"/>
<text transform="translate(1798,644.4) scale(1,0.98)" font-family="'Liberation Sans', Arial, Helvetica, sans-serif" font-size="32.5" font-weight="bold" font-style="normal" fill="#000" text-anchor="start"><tspan>Pt 3/Nb </tspan><tspan dx="2" font-style="italic">t</tspan><tspan dy="8" font-size="22" font-style="italic">Nb</tspan></text>
<text transform="translate(1611.5,811.6) scale(1,1.04)" font-family="'Liberation Sans', Arial, Helvetica, sans-serif" font-size="54" font-weight="bold" font-style="normal" fill="#000" text-anchor="middle"><tspan font-style="italic">t</tspan><tspan dy="14" font-size="35" font-style="italic">Nb</tspan><tspan dy="-14"> (nm)</tspan></text>
<text transform="translate(1104.8,568.5) rotate(-90) scale(1,1.035)" font-family="'Liberation Sans', Arial, Helvetica, sans-serif" font-size="54" font-weight="bold" font-style="normal" fill="#000" text-anchor="start"><tspan font-style="italic">K</tspan><tspan dy="13" font-size="37" font-style="italic">eff</tspan><tspan dy="-13" dx="-2.3"> (10</tspan><tspan dy="-22" font-size="36">6</tspan><tspan dy="22">erg/cm</tspan><tspan dy="-22" font-size="36">3</tspan><tspan dy="22" dx="-1.5">)</tspan></text>
<text transform="translate(1058.3,57.8)" font-family="'Liberation Sans', Arial, Helvetica, sans-serif" font-size="78" font-weight="bold" font-style="normal" fill="#282828" text-anchor="start">b</text>
<line x1="197.5" y1="892.3" x2="770" y2="892.3" stroke="#000" stroke-width="4.9"/>
<path d="M197.5,892.3 H770 M785.5,892.3 H981 V1522.7 H785.5 M770,1522.7 H197.5 M197.5,1522.7 V892.3" fill="none" stroke="#000" stroke-width="4.9" stroke-linecap="square"/>
<line x1="764.2" y1="904.3" x2="777.8" y2="880.3" stroke="#000" stroke-width="3.8"/>
<line x1="778.7" y1="904.3" x2="792.3" y2="880.3" stroke="#000" stroke-width="3.8"/>
<line x1="764.2" y1="1534.7" x2="777.8" y2="1510.7" stroke="#000" stroke-width="3.8"/>
<line x1="778.7" y1="1534.7" x2="792.3" y2="1510.7" stroke="#000" stroke-width="3.8"/>
<line x1="254.2" y1="1522.7" x2="254.2" y2="1510.2" stroke="#000" stroke-width="4.6"/>
<line x1="254.2" y1="892.3" x2="254.2" y2="904.8" stroke="#000" stroke-width="4.6"/>
<line x1="366.4" y1="1522.7" x2="366.4" y2="1510.2" stroke="#000" stroke-width="4.6"/>
<line x1="366.4" y1="892.3" x2="366.4" y2="904.8" stroke="#000" stroke-width="4.6"/>
<line x1="478.6" y1="1522.7" x2="478.6" y2="1510.2" stroke="#000" stroke-width="4.6"/>
<line x1="478.6" y1="892.3" x2="478.6" y2="904.8" stroke="#000" stroke-width="4.6"/>
<line x1="590.8" y1="1522.7" x2="590.8" y2="1510.2" stroke="#000" stroke-width="4.6"/>
<line x1="590.8" y1="892.3" x2="590.8" y2="904.8" stroke="#000" stroke-width="4.6"/>
<line x1="703" y1="1522.7" x2="703" y2="1510.2" stroke="#000" stroke-width="4.6"/>
<line x1="703" y1="892.3" x2="703" y2="904.8" stroke="#000" stroke-width="4.6"/>
<line x1="833.9" y1="1522.7" x2="833.9" y2="1510.2" stroke="#000" stroke-width="4.6"/>
<line x1="833.9" y1="892.3" x2="833.9" y2="904.8" stroke="#000" stroke-width="4.6"/>
<line x1="932.2" y1="1522.7" x2="932.2" y2="1510.2" stroke="#000" stroke-width="4.6"/>
<line x1="932.2" y1="892.3" x2="932.2" y2="904.8" stroke="#000" stroke-width="4.6"/>
<line x1="310.3" y1="1522.7" x2="310.3" y2="1516.2" stroke="#000" stroke-width="4.6"/>
<line x1="310.3" y1="892.3" x2="310.3" y2="898.8" stroke="#000" stroke-width="4.6"/>
<line x1="422.5" y1="1522.7" x2="422.5" y2="1516.2" stroke="#000" stroke-width="4.6"/>
<line x1="422.5" y1="892.3" x2="422.5" y2="898.8" stroke="#000" stroke-width="4.6"/>
<line x1="534.7" y1="1522.7" x2="534.7" y2="1516.2" stroke="#000" stroke-width="4.6"/>
<line x1="534.7" y1="892.3" x2="534.7" y2="898.8" stroke="#000" stroke-width="4.6"/>
<line x1="646.9" y1="1522.7" x2="646.9" y2="1516.2" stroke="#000" stroke-width="4.6"/>
<line x1="646.9" y1="892.3" x2="646.9" y2="898.8" stroke="#000" stroke-width="4.6"/>
<line x1="759.1" y1="1522.7" x2="759.1" y2="1516.2" stroke="#000" stroke-width="4.6"/>
<line x1="759.1" y1="892.3" x2="759.1" y2="898.8" stroke="#000" stroke-width="4.6"/>
<line x1="784.75" y1="1522.7" x2="784.75" y2="1516.2" stroke="#000" stroke-width="4.6"/>
<line x1="784.75" y1="892.3" x2="784.75" y2="898.8" stroke="#000" stroke-width="4.6"/>
<line x1="883.05" y1="1522.7" x2="883.05" y2="1516.2" stroke="#000" stroke-width="4.6"/>
<line x1="883.05" y1="892.3" x2="883.05" y2="898.8" stroke="#000" stroke-width="4.6"/>
<line x1="197.5" y1="971.3" x2="210" y2="971.3" stroke="#000" stroke-width="4.6"/>
<line x1="981" y1="971.3" x2="968.5" y2="971.3" stroke="#000" stroke-width="4.6"/>
<line x1="197.5" y1="1128.9" x2="210" y2="1128.9" stroke="#000" stroke-width="4.6"/>
<line x1="981" y1="1128.9" x2="968.5" y2="1128.9" stroke="#000" stroke-width="4.6"/>
<line x1="197.5" y1="1286.5" x2="210" y2="1286.5" stroke="#000" stroke-width="4.6"/>
<line x1="981" y1="1286.5" x2="968.5" y2="1286.5" stroke="#000" stroke-width="4.6"/>
<line x1="197.5" y1="1444.1" x2="210" y2="1444.1" stroke="#000" stroke-width="4.6"/>
<line x1="981" y1="1444.1" x2="968.5" y2="1444.1" stroke="#000" stroke-width="4.6"/>
<line x1="197.5" y1="1050.1" x2="204" y2="1050.1" stroke="#000" stroke-width="4.6"/>
<line x1="981" y1="1050.1" x2="974.5" y2="1050.1" stroke="#000" stroke-width="4.6"/>
<line x1="197.5" y1="1207.7" x2="204" y2="1207.7" stroke="#000" stroke-width="4.6"/>
<line x1="981" y1="1207.7" x2="974.5" y2="1207.7" stroke="#000" stroke-width="4.6"/>
<line x1="197.5" y1="1365.3" x2="204" y2="1365.3" stroke="#000" stroke-width="4.6"/>
<line x1="981" y1="1365.3" x2="974.5" y2="1365.3" stroke="#000" stroke-width="4.6"/>
<text transform="translate(254.2,1568.7) scale(1,1.05)" font-family="'Liberation Sans', Arial, Helvetica, sans-serif" font-size="42" font-weight="bold" font-style="normal" fill="#000" text-anchor="middle">5</text>
<text transform="translate(366.4,1568.7) scale(1,1.05)" font-family="'Liberation Sans', Arial, Helvetica, sans-serif" font-size="42" font-weight="bold" font-style="normal" fill="#000" text-anchor="middle">6</text>
<text transform="translate(478.6,1568.7) scale(1,1.05)" font-family="'Liberation Sans', Arial, Helvetica, sans-serif" font-size="42" font-weight="bold" font-style="normal" fill="#000" text-anchor="middle">7</text>
<text transform="translate(590.8,1568.7) scale(1,1.05)" font-family="'Liberation Sans', Arial, Helvetica, sans-serif" font-size="42" font-weight="bold" font-style="normal" fill="#000" text-anchor="middle">8</text>
<text transform="translate(703,1568.7) scale(1,1.05)" font-family="'Liberation Sans', Arial, Helvetica, sans-serif" font-size="42" font-weight="bold" font-style="normal" fill="#000" text-anchor="middle">9</text>
<text transform="translate(833.9,1568.7) scale(1,1.05)" font-family="'Liberation Sans', Arial, Helvetica, sans-serif" font-size="42" font-weight="bold" font-style="normal" fill="#000" text-anchor="middle">14</text>
<text transform="translate(932.2,1568.7) scale(1,1.05)" font-family="'Liberation Sans', Arial, Helvetica, sans-serif" font-size="42" font-weight="bold" font-style="normal" fill="#000" text-anchor="middle">15</text>
<text transform="translate(183.6,984.1) scale(1,1.05)" font-family="'Liberation Sans', Arial, Helvetica, sans-serif" font-size="42" font-weight="bold" font-style="normal" fill="#000" text-anchor="end">-0.02</text>
<text transform="translate(183.6,1141.7) scale(1,1.05)" font-family="'Liberation Sans', Arial, Helvetica, sans-serif" font-size="42" font-weight="bold" font-style="normal" fill="#000" text-anchor="end">-0.04</text>
<text transform="translate(183.6,1299.3) scale(1,1.05)" font-family="'Liberation Sans', Arial, Helvetica, sans-serif" font-size="42" font-weight="bold" font-style="normal" fill="#000" text-anchor="end">-0.06</text>
<text transform="translate(183.6,1456.9) scale(1,1.05)" font-family="'Liberation Sans', Arial, Helvetica, sans-serif" font-size="42" font-weight="bold" font-style="normal" fill="#000" text-anchor="end">-0.08</text>
<path d="M254.2,1173.6 L478.3,1128.6 L703.7,1087.9 L932.2,1071.1" fill="none" stroke="#0000ff" stroke-width="4.6" stroke-dasharray="6.0 13.5" stroke-linecap="round" mask="url(#m7)"/>
<path d="M254.2,1108.3 V1238 M248.6,1108.3 H259.8 M248.6,1238 H259.8" fill="none" stroke="#0000ff" stroke-width="3.9"/>
<path d="M478.3,1119 V1138.5 M472.7,1119 H483.9 M472.7,1138.5 H483.9" fill="none" stroke="#0000ff" stroke-width="3.9"/>
<path d="M703.7,1069.8 V1106 M698.1,1069.8 H709.3 M698.1,1106 H709.3" fill="none" stroke="#0000ff" stroke-width="3.9"/>
<path d="M932.2,1058.1 V1084.6 M926.6,1058.1 H937.8 M926.6,1084.6 H937.8" fill="none" stroke="#0000ff" stroke-width="3.9"/>
<circle cx="254.2" cy="1173.6" r="11.1" fill="none" stroke="#0000ff" stroke-width="4.4"/>
<circle cx="478.3" cy="1128.6" r="11.1" fill="none" stroke="#0000ff" stroke-width="4.4"/>
<circle cx="703.7" cy="1087.9" r="11.1" fill="none" stroke="#0000ff" stroke-width="4.4"/>
<circle cx="932.2" cy="1071.1" r="11.1" fill="none" stroke="#0000ff" stroke-width="4.4"/>
<path d="M253.9,1398 L478.8,1450.2 L703,1437.4 L932.4,1430" fill="none" stroke="#cc0000" stroke-width="4.6" stroke-dasharray="6.0 13.5" stroke-linecap="round" mask="url(#m8)"/>
<path d="M253.9,1386.5 V1409.5 M248.3,1386.5 H259.5 M248.3,1409.5 H259.5" fill="none" stroke="#cc0000" stroke-width="3.9"/>
<path d="M478.8,1419.2 V1481.9 M473.2,1419.2 H484.4 M473.2,1481.9 H484.4" fill="none" stroke="#cc0000" stroke-width="3.9"/>
<path d="M703,1431 V1444 M697.4,1431 H708.6 M697.4,1444 H708.6" fill="none" stroke="#cc0000" stroke-width="3.9"/>
<path d="M932.4,1426.5 V1433.5 M926.8,1426.5 H938 M926.8,1433.5 H938" fill="none" stroke="#cc0000" stroke-width="3.9"/>
<polygon points="253.9,1386.4 264.7,1392.2 264.7,1403.8 253.9,1409.6 243.1,1403.8 243.1,1392.2" fill="none" stroke="#cc0000" stroke-width="4.4" stroke-linejoin="miter"/>
<polygon points="478.8,1438.6 489.6,1444.4 489.6,1456 478.8,1461.8 468,1456 468,1444.4" fill="none" stroke="#cc0000" stroke-width="4.4" stroke-linejoin="miter"/>
<polygon points="703,1425.8 713.8,1431.6 713.8,1443.2 703,1449 692.2,1443.2 692.2,1431.6" fill="none" stroke="#cc0000" stroke-width="4.4" stroke-linejoin="miter"/>
<polygon points="932.4,1418.4 943.2,1424.2 943.2,1435.8 932.4,1441.6 921.6,1435.8 921.6,1424.2" fill="none" stroke="#cc0000" stroke-width="4.4" stroke-linejoin="miter"/>
<text transform="translate(232,946.7) scale(1,0.97)" font-family="'Liberation Sans', Arial, Helvetica, sans-serif" font-size="32.2" font-weight="bold" font-style="normal" fill="#000" text-anchor="start"><tspan>Ta 3/Nb </tspan><tspan dx="2" font-style="italic">t</tspan><tspan dy="8.5" font-size="22" font-style="italic">Nb</tspan><tspan dy="-8.5"> (in nm)</tspan></text>
<path d="M230.6,987.6 H297" fill="none" stroke="#0000ff" stroke-width="4.6" stroke-dasharray="6.0 13.5" stroke-linecap="round" mask="url(#m9)"/>
<circle cx="266.1" cy="987.6" r="11.1" fill="none" stroke="#0000ff" stroke-width="4.4"/>
<path d="M230.6,1039.1 H297" fill="none" stroke="#cc0000" stroke-width="4.6" stroke-dasharray="6.0 13.5" stroke-linecap="round" mask="url(#m10)"/>
<polygon points="266.1,1027.5 276.9,1033.3 276.9,1044.9 266.1,1050.7 255.3,1044.9 255.3,1033.3" fill="none" stroke="#cc0000" stroke-width="4.4" stroke-linejoin="miter"/>
<text transform="translate(312.5,998) scale(1,0.97)" font-family="'Liberation Sans', Arial, Helvetica, sans-serif" font-size="32.5" font-weight="bold" font-style="normal" fill="#000" text-anchor="start"><tspan font-weight="normal" font-family="'Liberation Serif', 'Times New Roman', serif">ξ</tspan><tspan dy="8.7" dx="1.2" font-size="22">DL</tspan><tspan dy="-8.7"> (</tspan><tspan dx="1.5" font-style="italic">t</tspan><tspan dy="8.7" font-size="22" font-style="italic">Nb</tspan><tspan dy="-8.7">)</tspan></text>
<text transform="translate(312.5,1049.5) scale(1,0.97)" font-family="'Liberation Sans', Arial, Helvetica, sans-serif" font-size="32.5" font-weight="bold" font-style="normal" fill="#000" text-anchor="start"><tspan font-weight="normal" font-family="'Liberation Serif', 'Times New Roman', serif">ξ</tspan><tspan dy="8.7" dx="1.2" font-size="22">FL</tspan><tspan dy="-8.7"> (</tspan><tspan dx="1.5" font-style="italic">t</tspan><tspan dy="8.7" font-size="22" font-style="italic">Nb</tspan><tspan dy="-8.7">)</tspan></text>
<text transform="translate(590.3,1637.5) scale(1,1.04)" font-family="'Liberation Sans', Arial, Helvetica, sans-serif" font-size="54" font-weight="bold" font-style="normal" fill="#000" text-anchor="middle"><tspan font-style="italic">t</tspan><tspan dy="14" font-size="35" font-style="italic">Nb</tspan><tspan dy="-14"> (nm)</tspan></text>
<text transform="translate(41.5,1277) rotate(-90)" font-family="'Liberation Sans', Arial, Helvetica, sans-serif" font-size="54" font-weight="bold" font-style="normal" fill="#000" text-anchor="start"><tspan font-size="54" font-weight="normal" font-family="'Liberation Serif', 'Times New Roman', serif">ξ</tspan><tspan dy="13.5" font-size="37">DL(FL)</tspan></text>
<text transform="translate(41.3,884.4)" font-family="'Liberation Sans', Arial, Helvetica, sans-serif" font-size="78" font-weight="bold" font-style="normal" fill="#282828" text-anchor="start">c</text>
<line x1="1218.8" y1="1155.2" x2="2002" y2="1155.2" stroke="#000" stroke-width="4.5"/>
<line x1="1272" y1="1523.5" x2="1272" y2="1511" stroke="#000" stroke-width="4.6"/>
<line x1="1272" y1="893" x2="1272" y2="905.5" stroke="#000" stroke-width="4.6"/>
<line x1="1380.12" y1="1523.5" x2="1380.12" y2="1511" stroke="#000" stroke-width="4.6"/>
<line x1="1380.12" y1="893" x2="1380.12" y2="905.5" stroke="#000" stroke-width="4.6"/>
<line x1="1488.24" y1="1523.5" x2="1488.24" y2="1511" stroke="#000" stroke-width="4.6"/>
<line x1="1488.24" y1="893" x2="1488.24" y2="905.5" stroke="#000" stroke-width="4.6"/>
<line x1="1596.36" y1="1523.5" x2="1596.36" y2="1511" stroke="#000" stroke-width="4.6"/>
<line x1="1596.36" y1="893" x2="1596.36" y2="905.5" stroke="#000" stroke-width="4.6"/>
<line x1="1704.48" y1="1523.5" x2="1704.48" y2="1511" stroke="#000" stroke-width="4.6"/>
<line x1="1704.48" y1="893" x2="1704.48" y2="905.5" stroke="#000" stroke-width="4.6"/>
<line x1="1812.6" y1="1523.5" x2="1812.6" y2="1511" stroke="#000" stroke-width="4.6"/>
<line x1="1812.6" y1="893" x2="1812.6" y2="905.5" stroke="#000" stroke-width="4.6"/>
<line x1="1920.72" y1="1523.5" x2="1920.72" y2="1511" stroke="#000" stroke-width="4.6"/>
<line x1="1920.72" y1="893" x2="1920.72" y2="905.5" stroke="#000" stroke-width="4.6"/>
<line x1="1217.94" y1="1523.5" x2="1217.94" y2="1517" stroke="#000" stroke-width="4.6"/>
<line x1="1217.94" y1="893" x2="1217.94" y2="899.5" stroke="#000" stroke-width="4.6"/>
<line x1="1326.06" y1="1523.5" x2="1326.06" y2="1517" stroke="#000" stroke-width="4.6"/>
<line x1="1326.06" y1="893" x2="1326.06" y2="899.5" stroke="#000" stroke-width="4.6"/>
<line x1="1434.18" y1="1523.5" x2="1434.18" y2="1517" stroke="#000" stroke-width="4.6"/>
<line x1="1434.18" y1="893" x2="1434.18" y2="899.5" stroke="#000" stroke-width="4.6"/>
<line x1="1542.3" y1="1523.5" x2="1542.3" y2="1517" stroke="#000" stroke-width="4.6"/>
<line x1="1542.3" y1="893" x2="1542.3" y2="899.5" stroke="#000" stroke-width="4.6"/>
<line x1="1650.42" y1="1523.5" x2="1650.42" y2="1517" stroke="#000" stroke-width="4.6"/>
<line x1="1650.42" y1="893" x2="1650.42" y2="899.5" stroke="#000" stroke-width="4.6"/>
<line x1="1758.54" y1="1523.5" x2="1758.54" y2="1517" stroke="#000" stroke-width="4.6"/>
<line x1="1758.54" y1="893" x2="1758.54" y2="899.5" stroke="#000" stroke-width="4.6"/>
<line x1="1866.66" y1="1523.5" x2="1866.66" y2="1517" stroke="#000" stroke-width="4.6"/>
<line x1="1866.66" y1="893" x2="1866.66" y2="899.5" stroke="#000" stroke-width="4.6"/>
<line x1="1974.78" y1="1523.5" x2="1974.78" y2="1517" stroke="#000" stroke-width="4.6"/>
<line x1="1974.78" y1="893" x2="1974.78" y2="899.5" stroke="#000" stroke-width="4.6"/>
<line x1="1218.8" y1="944.8" x2="1231.3" y2="944.8" stroke="#000" stroke-width="4.6"/>
<line x1="2002" y1="944.8" x2="1989.5" y2="944.8" stroke="#000" stroke-width="4.6"/>
<line x1="1218.8" y1="1050" x2="1231.3" y2="1050" stroke="#000" stroke-width="4.6"/>
<line x1="2002" y1="1050" x2="1989.5" y2="1050" stroke="#000" stroke-width="4.6"/>
<line x1="1218.8" y1="1155.2" x2="1231.3" y2="1155.2" stroke="#000" stroke-width="4.6"/>
<line x1="2002" y1="1155.2" x2="1989.5" y2="1155.2" stroke="#000" stroke-width="4.6"/>
<line x1="1218.8" y1="1260.4" x2="1231.3" y2="1260.4" stroke="#000" stroke-width="4.6"/>
<line x1="2002" y1="1260.4" x2="1989.5" y2="1260.4" stroke="#000" stroke-width="4.6"/>
<line x1="1218.8" y1="1365.6" x2="1231.3" y2="1365.6" stroke="#000" stroke-width="4.6"/>
<line x1="2002" y1="1365.6" x2="1989.5" y2="1365.6" stroke="#000" stroke-width="4.6"/>
<line x1="1218.8" y1="1470.8" x2="1231.3" y2="1470.8" stroke="#000" stroke-width="4.6"/>
<line x1="2002" y1="1470.8" x2="1989.5" y2="1470.8" stroke="#000" stroke-width="4.6"/>
<line x1="1218.8" y1="997.4" x2="1225.3" y2="997.4" stroke="#000" stroke-width="4.6"/>
<line x1="2002" y1="997.4" x2="1995.5" y2="997.4" stroke="#000" stroke-width="4.6"/>
<line x1="1218.8" y1="1102.6" x2="1225.3" y2="1102.6" stroke="#000" stroke-width="4.6"/>
<line x1="2002" y1="1102.6" x2="1995.5" y2="1102.6" stroke="#000" stroke-width="4.6"/>
<line x1="1218.8" y1="1207.8" x2="1225.3" y2="1207.8" stroke="#000" stroke-width="4.6"/>
<line x1="2002" y1="1207.8" x2="1995.5" y2="1207.8" stroke="#000" stroke-width="4.6"/>
<line x1="1218.8" y1="1313" x2="1225.3" y2="1313" stroke="#000" stroke-width="4.6"/>
<line x1="2002" y1="1313" x2="1995.5" y2="1313" stroke="#000" stroke-width="4.6"/>
<line x1="1218.8" y1="1418.2" x2="1225.3" y2="1418.2" stroke="#000" stroke-width="4.6"/>
<line x1="2002" y1="1418.2" x2="1995.5" y2="1418.2" stroke="#000" stroke-width="4.6"/>
<rect x="1218.8" y="893" width="783.2" height="630.5" fill="none" stroke="#000" stroke-width="4.9" stroke-linejoin="miter"/>
<text transform="translate(1272,1569.5) scale(1,1.05)" font-family="'Liberation Sans', Arial, Helvetica, sans-serif" font-size="42" font-weight="bold" font-style="normal" fill="#000" text-anchor="middle">0</text>
<text transform="translate(1380.12,1569.5) scale(1,1.05)" font-family="'Liberation Sans', Arial, Helvetica, sans-serif" font-size="42" font-weight="bold" font-style="normal" fill="#000" text-anchor="middle">2</text>
<text transform="translate(1488.24,1569.5) scale(1,1.05)" font-family="'Liberation Sans', Arial, Helvetica, sans-serif" font-size="42" font-weight="bold" font-style="normal" fill="#000" text-anchor="middle">4</text>
<text transform="translate(1596.36,1569.5) scale(1,1.05)" font-family="'Liberation Sans', Arial, Helvetica, sans-serif" font-size="42" font-weight="bold" font-style="normal" fill="#000" text-anchor="middle">6</text>
<text transform="translate(1704.48,1569.5) scale(1,1.05)" font-family="'Liberation Sans', Arial, Helvetica, sans-serif" font-size="42" font-weight="bold" font-style="normal" fill="#000" text-anchor="middle">8</text>
<text transform="translate(1812.6,1569.5) scale(1,1.05)" font-family="'Liberation Sans', Arial, Helvetica, sans-serif" font-size="42" font-weight="bold" font-style="normal" fill="#000" text-anchor="middle">10</text>
<text transform="translate(1920.72,1569.5) scale(1,1.05)" font-family="'Liberation Sans', Arial, Helvetica, sans-serif" font-size="42" font-weight="bold" font-style="normal" fill="#000" text-anchor="middle">12</text>
<text transform="translate(1204.8,956.8) scale(1,1.05)" font-family="'Liberation Sans', Arial, Helvetica, sans-serif" font-size="42" font-weight="bold" font-style="normal" fill="#000" text-anchor="end">0.04</text>
<text transform="translate(1204.8,1062) scale(1,1.05)" font-family="'Liberation Sans', Arial, Helvetica, sans-serif" font-size="42" font-weight="bold" font-style="normal" fill="#000" text-anchor="end">0.02</text>
<text transform="translate(1204.8,1167.2) scale(1,1.05)" font-family="'Liberation Sans', Arial, Helvetica, sans-serif" font-size="42" font-weight="bold" font-style="normal" fill="#000" text-anchor="end">0.00</text>
<text transform="translate(1204.8,1272.4) scale(1,1.05)" font-family="'Liberation Sans', Arial, Helvetica, sans-serif" font-size="42" font-weight="bold" font-style="normal" fill="#000" text-anchor="end">-0.02</text>
<text transform="translate(1204.8,1377.6) scale(1,1.05)" font-family="'Liberation Sans', Arial, Helvetica, sans-serif" font-size="42" font-weight="bold" font-style="normal" fill="#000" text-anchor="end">-0.04</text>
<text transform="translate(1204.8,1482.8) scale(1,1.05)" font-family="'Liberation Sans', Arial, Helvetica, sans-serif" font-size="42" font-weight="bold" font-style="normal" fill="#000" text-anchor="end">-0.06</text>
<path d="M1326.7,996 L1380.9,1071.5 L1435,1122.9 L1488.8,1175 L1542.9,1212.4 L1651.3,1256 L1759,1294.9 L1921.3,1306.4" fill="none" stroke="#0000ff" stroke-width="4.6" stroke-dasharray="6.0 13.5" stroke-linecap="round" mask="url(#m11)"/>
<path d="M1326.7,971.2 V1021.9 M1321.1,971.2 H1332.3 M1321.1,1021.9 H1332.3" fill="none" stroke="#0000ff" stroke-width="3.9"/>
<path d="M1380.9,1058.3 V1087.9 M1375.3,1058.3 H1386.5 M1375.3,1087.9 H1386.5" fill="none" stroke="#0000ff" stroke-width="3.9"/>
<path d="M1435,1120 V1126 M1429.4,1120 H1440.6 M1429.4,1126 H1440.6" fill="none" stroke="#0000ff" stroke-width="3.9"/>
<path d="M1488.8,1172.5 V1178.4 M1483.2,1172.5 H1494.4 M1483.2,1178.4 H1494.4" fill="none" stroke="#0000ff" stroke-width="3.9"/>
<path d="M1542.9,1183.8 V1241.1 M1537.3,1183.8 H1548.5 M1537.3,1241.1 H1548.5" fill="none" stroke="#0000ff" stroke-width="3.9"/>
<path d="M1651.3,1237.6 V1273 M1645.7,1237.6 H1656.9 M1645.7,1273 H1656.9" fill="none" stroke="#0000ff" stroke-width="3.9"/>
<path d="M1759,1239.9 V1349 M1753.4,1239.9 H1764.6 M1753.4,1349 H1764.6" fill="none" stroke="#0000ff" stroke-width="3.9"/>
<path d="M1921.3,1297 V1316 M1915.7,1297 H1926.9 M1915.7,1316 H1926.9" fill="none" stroke="#0000ff" stroke-width="3.9"/>
<circle cx="1326.7" cy="996" r="11.1" fill="none" stroke="#0000ff" stroke-width="4.4"/>
<circle cx="1380.9" cy="1071.5" r="11.1" fill="none" stroke="#0000ff" stroke-width="4.4"/>
<circle cx="1435" cy="1122.9" r="11.1" fill="none" stroke="#0000ff" stroke-width="4.4"/>
<circle cx="1488.8" cy="1175" r="11.1" fill="none" stroke="#0000ff" stroke-width="4.4"/>
<circle cx="1542.9" cy="1212.4" r="11.1" fill="none" stroke="#0000ff" stroke-width="4.4"/>
<circle cx="1651.3" cy="1256" r="11.1" fill="none" stroke="#0000ff" stroke-width="4.4"/>
<circle cx="1759" cy="1294.9" r="11.1" fill="none" stroke="#0000ff" stroke-width="4.4"/>
<circle cx="1921.3" cy="1306.4" r="11.1" fill="none" stroke="#0000ff" stroke-width="4.4"/>
<path d="M1326.7,1066.8 L1380.9,1085.4 L1435,1160.7 L1488.8,1197 L1542.9,1207.4 L1651.3,1290.3 L1759,1339.6 L1921.3,1440.5" fill="none" stroke="#cc0000" stroke-width="4.6" stroke-dasharray="6.0 13.5" stroke-linecap="round" mask="url(#m12)"/>
<path d="M1326.7,1061.7 V1074.4 M1321.1,1061.7 H1332.3 M1321.1,1074.4 H1332.3" fill="none" stroke="#cc0000" stroke-width="3.9"/>
<path d="M1380.9,1061.7 V1109 M1375.3,1061.7 H1386.5 M1375.3,1109 H1386.5" fill="none" stroke="#cc0000" stroke-width="3.9"/>
<path d="M1435,1159.5 V1162 M1429.4,1159.5 H1440.6 M1429.4,1162 H1440.6" fill="none" stroke="#cc0000" stroke-width="3.9"/>
<path d="M1488.8,1187 V1209 M1483.2,1187 H1494.4 M1483.2,1209 H1494.4" fill="none" stroke="#cc0000" stroke-width="3.9"/>
<path d="M1542.9,1205.5 V1209.5 M1537.3,1205.5 H1548.5 M1537.3,1209.5 H1548.5" fill="none" stroke="#cc0000" stroke-width="3.9"/>
<path d="M1651.3,1273.1 V1307.5 M1645.7,1273.1 H1656.9 M1645.7,1307.5 H1656.9" fill="none" stroke="#cc0000" stroke-width="3.9"/>
<path d="M1759,1283.5 V1395.8 M1753.4,1283.5 H1764.6 M1753.4,1395.8 H1764.6" fill="none" stroke="#cc0000" stroke-width="3.9"/>
<path d="M1921.3,1416.4 V1464.5 M1915.7,1416.4 H1926.9 M1915.7,1464.5 H1926.9" fill="none" stroke="#cc0000" stroke-width="3.9"/>
<polygon points="1326.7,1055.2 1337.5,1061 1337.5,1072.6 1326.7,1078.4 1315.9,1072.6 1315.9,1061" fill="none" stroke="#cc0000" stroke-width="4.4" stroke-linejoin="miter"/>
<polygon points="1380.9,1073.8 1391.7,1079.6 1391.7,1091.2 1380.9,1097 1370.1,1091.2 1370.1,1079.6" fill="none" stroke="#cc0000" stroke-width="4.4" stroke-linejoin="miter"/>
<polygon points="1435,1149.1 1445.8,1154.9 1445.8,1166.5 1435,1172.3 1424.2,1166.5 1424.2,1154.9" fill="none" stroke="#cc0000" stroke-width="4.4" stroke-linejoin="miter"/>
<polygon points="1488.8,1185.4 1499.6,1191.2 1499.6,1202.8 1488.8,1208.6 1478,1202.8 1478,1191.2" fill="none" stroke="#cc0000" stroke-width="4.4" stroke-linejoin="miter"/>
<polygon points="1542.9,1195.8 1553.7,1201.6 1553.7,1213.2 1542.9,1219 1532.1,1213.2 1532.1,1201.6" fill="none" stroke="#cc0000" stroke-width="4.4" stroke-linejoin="miter"/>
<polygon points="1651.3,1278.7 1662.1,1284.5 1662.1,1296.1 1651.3,1301.9 1640.5,1296.1 1640.5,1284.5" fill="none" stroke="#cc0000" stroke-width="4.4" stroke-linejoin="miter"/>
<polygon points="1759,1328 1769.8,1333.8 1769.8,1345.4 1759,1351.2 1748.2,1345.4 1748.2,1333.8" fill="none" stroke="#cc0000" stroke-width="4.4" stroke-linejoin="miter"/>
<polygon points="1921.3,1428.9 1932.1,1434.7 1932.1,1446.3 1921.3,1452.1 1910.5,1446.3 1910.5,1434.7" fill="none" stroke="#cc0000" stroke-width="4.4" stroke-linejoin="miter"/>
<text transform="translate(1665,953.9) scale(1,0.96)" font-family="'Liberation Sans', Arial, Helvetica, sans-serif" font-size="35.5" font-weight="bold" font-style="normal" fill="#000" text-anchor="start"><tspan>Pt 3/Nb </tspan><tspan dx="2" font-style="italic">t</tspan><tspan dy="9.5" font-size="24" font-style="italic">Nb</tspan><tspan dy="-9.5"> (in nm)</tspan></text>
<path d="M1755.6,997.8 H1835.8" fill="none" stroke="#0000ff" stroke-width="4.6" stroke-dasharray="6.0 13.5" stroke-linecap="round" mask="url(#m13)"/>
<circle cx="1795.2" cy="997.8" r="11.1" fill="none" stroke="#0000ff" stroke-width="4.4"/>
<path d="M1755.6,1054.3 H1835.8" fill="none" stroke="#cc0000" stroke-width="4.6" stroke-dasharray="6.0 13.5" stroke-linecap="round" mask="url(#m14)"/>
<polygon points="1795.2,1042.7 1806,1048.5 1806,1060.1 1795.2,1065.9 1784.4,1060.1 1784.4,1048.5" fill="none" stroke="#cc0000" stroke-width="4.4" stroke-linejoin="miter"/>
<text transform="translate(1846,1009) scale(1,0.96)" font-family="'Liberation Sans', Arial, Helvetica, sans-serif" font-size="35.5" font-weight="bold" font-style="normal" fill="#000" text-anchor="start"><tspan font-weight="normal" font-family="'Liberation Serif', 'Times New Roman', serif">ξ</tspan><tspan dy="9.5" dx="1.2" font-size="24">DL</tspan><tspan dy="-9.5"> (</tspan><tspan dx="1.5" font-style="italic">t</tspan><tspan dy="9.5" font-size="24" font-style="italic">Nb</tspan><tspan dy="-9.5">)</tspan></text>
<text transform="translate(1846,1065.5) scale(1,0.96)" font-family="'Liberation Sans', Arial, Helvetica, sans-serif" font-size="35.5" font-weight="bold" font-style="normal" fill="#000" text-anchor="start"><tspan font-weight="normal" font-family="'Liberation Serif', 'Times New Roman', serif">ξ</tspan><tspan dy="9.5" dx="1.2" font-size="24">FL</tspan><tspan dy="-9.5"> (</tspan><tspan dx="1.5" font-style="italic">t</tspan><tspan dy="9.5" font-size="24" font-style="italic">Nb</tspan><tspan dy="-9.5">)</tspan></text>
<text transform="translate(1611.5,1637.5) scale(1,1.04)" font-family="'Liberation Sans', Arial, Helvetica, sans-serif" font-size="54" font-weight="bold" font-style="normal" fill="#000" text-anchor="middle"><tspan font-style="italic">t</tspan><tspan dy="14" font-size="35" font-style="italic">Nb</tspan><tspan dy="-14"> (nm)</tspan></text>
<text transform="translate(1074.1,1279) rotate(-90)" font-family="'Liberation Sans', Arial, Helvetica, sans-serif" font-size="54" font-weight="bold" font-style="normal" fill="#000" text-anchor="start"><tspan font-size="54" font-weight="normal" font-family="'Liberation Serif', 'Times New Roman', serif">ξ</tspan><tspan dy="13.5" font-size="37">DL(FL)</tspan></text>
<text transform="translate(1058.5,884)" font-family="'Liberation Sans', Arial, Helvetica, sans-serif" font-size="78" font-weight="bold" font-style="normal" fill="#282828" text-anchor="start">d</text></svg>
</body></html>
